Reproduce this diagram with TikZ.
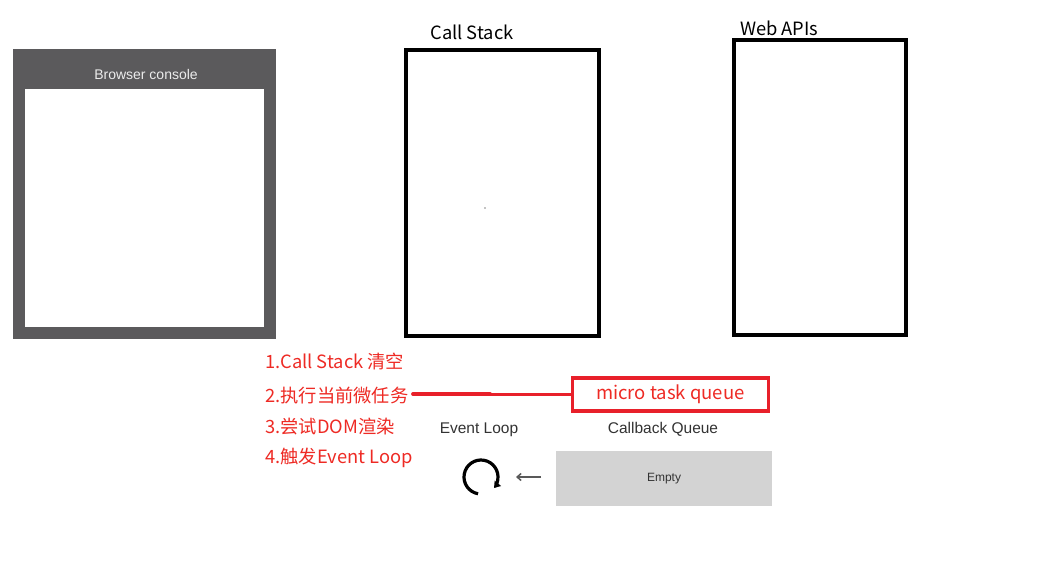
\documentclass[tikz,border=0pt]{standalone}
\usepackage{fontspec}
\setmainfont{Noto Sans CJK SC}
\newfontfamily\uisans{Liberation Sans}
\usetikzlibrary{arrows.meta,calc}
\definecolor{consolegray}{HTML}{5B5A5C}
\definecolor{redtxt}{HTML}{EE2A24}
\definecolor{boxred}{HTML}{E8202A}
\definecolor{queuegray}{HTML}{D3D3D3}
\definecolor{labelgray}{HTML}{333333}
\tikzset{
  bigbox/.style={draw=black, line width=4.5pt},
  steptxt/.style={anchor=west, text=redtxt, font=\fontsize{18.3pt}{20pt}\selectfont, inner sep=0pt},
  uilabel/.style={text=labelgray, font=\uisans\fontsize{15.5pt}{17pt}\selectfont, inner sep=0pt},
  titletxt/.style={text=black, font=\fontsize{18.3pt}{20pt}\selectfont, inner sep=0pt}
}
\begin{document}
\begin{tikzpicture}[x=1pt,y=-1pt]
\useasboundingbox[fill=white] (0,0) rectangle (1042,576);
% Browser console
\fill[consolegray] (13,49) rectangle (276,339);
\fill[white] (25,89) rectangle (264,327);
\node[text=white!85!gray, font=\uisans\fontsize{14pt}{16pt}\selectfont, inner sep=0pt] (bc) at (146,74) {Browser console};
% Call Stack
\draw[bigbox] (406,50) rectangle (599,336);
\node[titletxt] (cs) at (472,32) {Call Stack};
\fill[black] (485,208) circle (0.6);
% Web APIs
\draw[bigbox] (734,40) rectangle (906,335);
\node[titletxt, anchor=west] (wa) at (740,28) {Web APIs};
% steps
\node[steptxt] (s1) at (265,361.5) {1.Call Stack 清空};
\node[steptxt] (s2) at (265,395.5) {2.执行当前微任务};
\node[steptxt] (s3) at (265,426.5) {3.尝试DOM渲染};
\node[steptxt] (s4) at (265,457.5) {4.触发Event Loop};
% micro task queue
\node[draw=boxred, line width=3.5pt, minimum width=196pt, minimum height=33pt, text=redtxt, font=\fontsize{18.5pt}{20pt}\selectfont, inner sep=0pt] (mq) at (670.5,394.5) {\raisebox{-1.5pt}{micro task queue}};
\coordinate (lstart) at (413,394);
\coordinate (lmid) at (490,394);
\draw[boxred, line width=3.8pt, line cap=round] (lstart) -- (lmid);
\draw[boxred, line width=3pt] (lmid) -- (lmid -| mq.west);
% Event loop
\node[uilabel] (el) at (479,430) {Event Loop};
\node[uilabel] (cq) at (663,429) {Callback Queue};
\node[fill=queuegray, minimum width=216pt, minimum height=55pt, inner sep=0pt, text=labelgray, font=\uisans\fontsize{12pt}{14pt}\selectfont] (cb) at (664,478.5) {Empty};
\coordinate (lc) at (481,477);
\draw[black, line width=3.2pt, -{Triangle[length=6pt,width=8pt]}] ($(lc)+(100:17)$) arc[start angle=100, end angle=400, radius=17];
\coordinate (ar1) at (541,477);
\coordinate (ar2) at (516,477);
\draw[gray!70!black, line width=1.5pt, -{Straight Barb[length=4pt,width=7pt]}] (ar1) -- (ar2);
\end{tikzpicture}
\end{document}
